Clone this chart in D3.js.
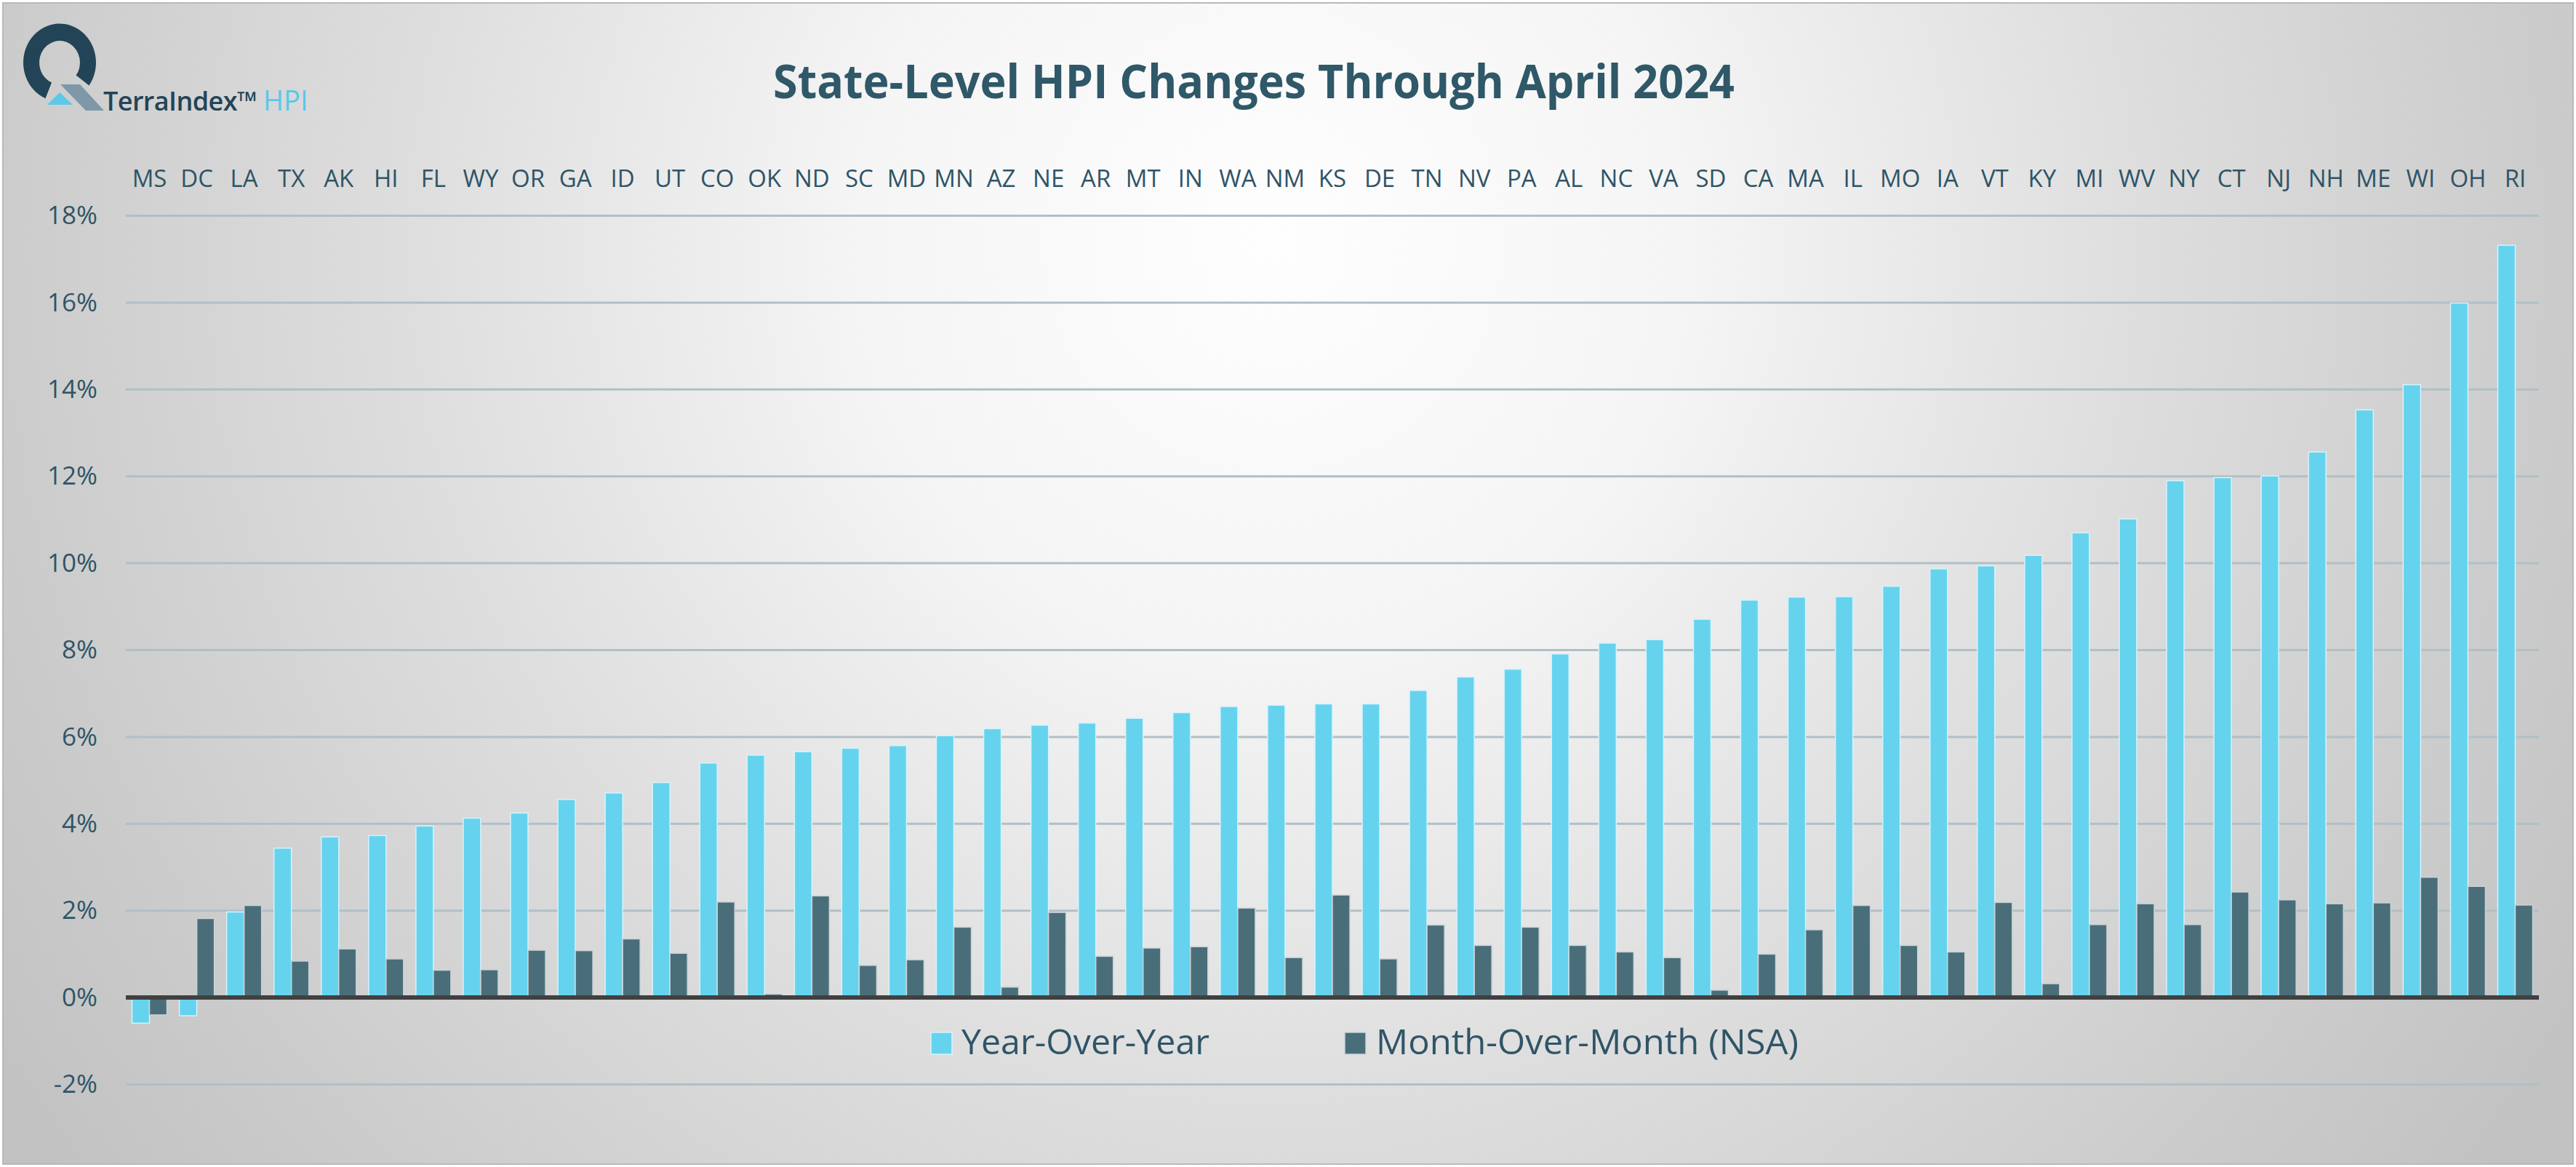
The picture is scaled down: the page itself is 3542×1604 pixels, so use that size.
<!DOCTYPE html>
<html><head><meta charset="utf-8">
<script src="https://cdn.jsdelivr.net/npm/d3@7"></script>
<style>html,body{margin:0;padding:0;background:#fff;} svg{display:block;} text{font-family:"Open Sans",sans-serif;}</style>
</head><body><svg id="c" width="3542" height="1604"></svg>
<script>
const states = ["MS","DC","LA","TX","AK","HI","FL","WY","OR","GA","ID","UT","CO","OK","ND","SC","MD","MN","AZ","NE","AR","MT","IN","WA","NM","KS","DE","TN","NV","PA","AL","NC","VA","SD","CA","MA","IL","MO","IA","VT","KY","MI","WV","NY","CT","NJ","NH","ME","WI","OH","RI"];
const yoy = [-0.59,-0.42,1.97,3.44,3.70,3.73,3.95,4.13,4.25,4.56,4.71,4.95,5.40,5.58,5.66,5.74,5.80,6.03,6.19,6.27,6.32,6.43,6.56,6.70,6.73,6.76,6.76,7.07,7.38,7.56,7.91,8.16,8.24,8.71,9.15,9.22,9.23,9.47,9.87,9.94,10.18,10.70,11.02,11.90,11.97,12.01,12.56,13.53,14.11,15.99,17.32];
const mom = [-0.40,1.82,2.12,0.84,1.12,0.89,0.63,0.64,1.09,1.08,1.35,1.02,2.20,0.08,2.34,0.74,0.87,1.62,0.24,1.96,0.95,1.14,1.17,2.06,0.92,2.36,0.89,1.67,1.20,1.62,1.20,1.05,0.92,0.17,1.00,1.56,2.12,1.20,1.05,2.19,0.32,1.68,2.16,1.68,2.43,2.25,2.16,2.18,2.77,2.56,2.13];
const seriesKeys = ["yoy","mom"];
const seriesNames = ["Year-Over-Year","Month-Over-Month (NSA)"];
const yTicks = [-2,0,2,4,6,8,10,12,14,16,18];
const titleText = "State-Level HPI Changes Through April 2024";

const W=3542,H=1604;
const svg=d3.select("#c");
const defs=svg.append("defs");
const rg=defs.append("radialGradient").attr("id","bg").attr("gradientUnits","userSpaceOnUse")
  .attr("cx",1750).attr("cy",330).attr("r",2100);
[[0,"#fefefe"],[0.27,"#f5f5f5"],[0.55,"#dfdfdf"],[0.83,"#cccccc"],[1,"#c2c2c2"]]
  .forEach(([o,c])=>rg.append("stop").attr("offset",o).attr("stop-color",c));
svg.append("rect").attr("x",4).attr("y",4).attr("width",W-8).attr("height",H-8)
  .attr("fill","url(#bg)").attr("stroke","#b9b9b9").attr("stroke-width",2);

const plot={left:173,right:3491};
const x=d3.scaleBand().domain(states).range([plot.left,plot.right]).paddingInner(0.262).paddingOuter(0.131);
const xs=d3.scaleBand().domain(seriesKeys).range([0,x.bandwidth()]);
const y=d3.scaleLinear().domain([-2,18]).range([1490.5,296.5]);
const colors={yoy:"#66d3ee",mom:"#4a6e79"};
const strokes={yoy:"#d6f3fb",mom:"#c9d3d6"};
const textColor="#2f5567";

// gridlines
svg.append("g").selectAll("line").data(yTicks.filter(d=>d!==0)).join("line")
  .attr("x1",plot.left).attr("x2",plot.right).attr("y1",d=>y(d)).attr("y2",d=>y(d))
  .attr("stroke","#b1bfc6").attr("stroke-width",3);

// y axis
const yAxis=svg.append("g").attr("transform",`translate(${plot.left},0)`)
  .call(d3.axisLeft(y).tickValues(yTicks).tickFormat(d=>d+"%").tickSize(0).tickPadding(39));
yAxis.select(".domain").remove();
yAxis.selectAll("text").attr("font-size",35).attr("fill",textColor).attr("font-family","Open Sans");

// x axis (top)
const xAxis=svg.append("g").attr("transform","translate(0,257)")
  .call(d3.axisTop(x).tickSize(0).tickPadding(0));
xAxis.select(".domain").remove();
xAxis.selectAll("text").attr("font-size",33).attr("fill",textColor).attr("font-family","Open Sans");

// bars
const rows=states.map((s,i)=>({state:s,yoy:yoy[i],mom:mom[i]}));
svg.append("g").selectAll("g").data(rows).join("g")
  .attr("transform",d=>`translate(${x(d.state)},0)`)
  .selectAll("rect").data(d=>seriesKeys.map(k=>({k,v:d[k]}))).join("rect")
  .attr("x",d=>xs(d.k)).attr("width",xs.bandwidth())
  .attr("y",d=>y(Math.max(0,d.v))).attr("height",d=>Math.abs(y(d.v)-y(0)))
  .attr("fill",d=>colors[d.k]).attr("stroke",d=>strokes[d.k]).attr("stroke-width",1.5);

// zero line
svg.append("line").attr("x1",plot.left).attr("x2",plot.right).attr("y1",y(0)).attr("y2",y(0))
  .attr("stroke","#404040").attr("stroke-width",6);

// legend
const legendPos=[{sx:1280,tx:1322,tl:341},{sx:1849,tx:1892,tl:581}];
const lg=svg.append("g");
seriesKeys.forEach((k,i)=>{
  const p=legendPos[i];
  lg.append("rect").attr("x",p.sx).attr("y",1419).attr("width",29).attr("height",30)
    .attr("fill",colors[k]).attr("stroke",strokes[k]).attr("stroke-width",1.5);
  lg.append("text").attr("x",p.tx).attr("y",1449).attr("font-size",48).attr("fill",textColor)
    .attr("textLength",p.tl).attr("lengthAdjust","spacingAndGlyphs").text(seriesNames[i]);
});

// title
svg.append("text").attr("x",1063).attr("y",135).attr("font-size",65).attr("font-weight","bold")
  .attr("fill","#2f5868").attr("textLength",1322).attr("lengthAdjust","spacingAndGlyphs").text(titleText);

// logo
const logo=svg.append("g");
const arc=d3.arc().innerRadius(28).outerRadius(50).startAngle(203*Math.PI/180).endAngle(486*Math.PI/180);
logo.append("path").attr("d",arc()).attr("transform","translate(82,86) scale(1,1.07)").attr("fill","#234456");
logo.append("polygon").attr("points","83,116 110,116 143,152 118,152").attr("fill","#7e98a9");
logo.append("polygon").attr("points","65,144 100,144 82,127").attr("fill","#5cc8ea");
logo.append("text").attr("x",142).attr("y",152).attr("font-size",36).attr("font-weight",600)
  .attr("letter-spacing",-0.6).attr("fill","#234456").text("TerraIndex™");
logo.append("text").attr("x",362).attr("y",152).attr("font-size",38).attr("font-weight",500)
  .attr("fill","#5bc8ea").text("HPI");
</script></body></html>
